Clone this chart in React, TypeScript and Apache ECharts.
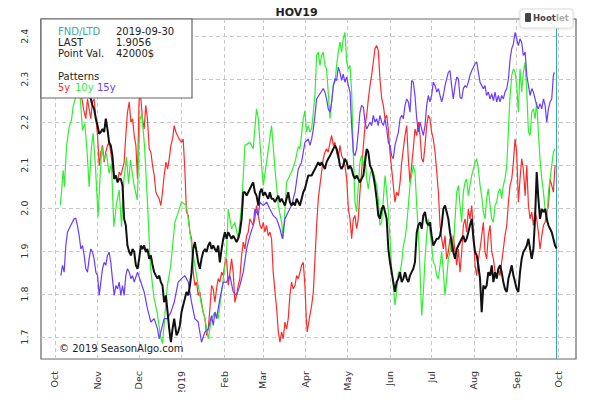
import React, { useEffect, useRef } from 'react';
import * as echarts from 'echarts';

// x values are days since 2018-10-01
const monthTicks = [0, 31, 61, 92, 123, 151, 182, 212, 243, 273, 304, 335, 365];
const monthLabels = ['Oct', 'Nov', 'Dec', '2019', 'Feb', 'Mar', 'Apr', 'May', 'Jun', 'Jul', 'Aug', 'Sep', 'Oct'];
const yTicks = [1.7, 1.8, 1.9, 2.0, 2.1, 2.2, 2.3, 2.4];
const lastDay = 364;

const infoLabels = ['FND/LTD', 'LAST', 'Point Val.'];
const infoValues = ['2019-09-30', '1.9056', '42000$'];
const patternNames = ['5y', '10y', '15y'];

// HOV19 current contract
const current: number[][] = [
  [4,2.32],[8,2.35],[13,2.31],[18,2.34],[23,2.28],
  [26.1,2.254],[27.3,2.239],[28.5,2.231],[29.8,2.208],[31.0,2.192],[32.2,2.173],[33.4,2.177],[34.6,2.184],[35.8,2.177],[37.0,2.208],[38.2,2.184],[39.4,2.153],[40.6,2.146],[41.8,2.122],[43.1,2.068],[44.3,2.076],[45.5,2.060],[46.7,2.068],[47.9,2.068],[49.1,2.053],[50.3,1.975],[51.5,1.960],[52.7,1.913],[54.0,1.898],[55.2,1.890],[56.4,1.905],[57.6,1.898],[58.8,1.867],[60.0,1.859],[61.2,1.882],[62.4,1.913],[63.6,1.905],[64.8,1.913],[66.0,1.898],[67.2,1.905],[68.5,1.882],[69.7,1.890],[70.9,1.867],[72.1,1.851],[73.3,1.843],[74.5,1.836],[75.7,1.843],[76.9,1.828],[78.1,1.820],[79.3,1.781],[80.6,1.797],[81.8,1.758],[83.0,1.719],[84.2,1.688],[85.4,1.719],[86.6,1.743],
  [88.3,1.704],[89.5,1.712],[90.7,1.727],[91.9,1.758],[93.1,1.774],[94.3,1.789],[95.5,1.805],[96.8,1.797],[98.0,1.820],[99.2,1.851],[100.4,1.905],[101.6,1.921],[102.8,1.898],[104.0,1.874],[105.2,1.859],[106.4,1.882],[107.6,1.898],[108.9,1.905],[110.1,1.898],[111.3,1.913],[112.5,1.921],[113.7,1.905],[114.9,1.913],[116.1,1.905],[117.3,1.898],[118.5,1.913],[119.7,1.874],[121.0,1.905],[122.2,1.929],[123.4,1.944],[124.6,1.929],[125.8,1.944],[127.0,1.936],[128.2,1.929],[129.4,1.936],[130.6,1.929],[131.8,1.921],[133.0,1.929],[134.2,1.944],[135.5,1.975],[136.7,2.037],[137.9,2.037],[139.1,2.029],[140.3,2.037],[141.5,2.045],[142.7,2.053],[143.9,2.060],[145.1,2.037],[146.3,2.029],[147.6,2.006],[148.8,2.037],[150.0,2.045],[151.2,2.029],[152.4,2.037],[153.6,2.029],[154.8,2.022],[156.0,2.037],[157.2,2.022],[158.4,2.022],[159.7,2.014],[160.9,2.022],[162.1,2.029],[163.3,2.014],[164.5,2.022],[165.7,2.014],[166.9,2.006],[168.1,2.022],[169.3,2.037],[170.5,2.014],[171.7,2.006],[172.9,2.014],[174.2,2.006],[175.4,2.022],[176.6,2.014],[177.8,2.006],[179.0,2.022],[180.2,2.037],[181.4,2.045],[182.6,2.060],[183.8,2.076],
  [186.3,2.076],[187.5,2.084],[188.7,2.091],[189.9,2.099],[191.1,2.107],[192.3,2.099],[193.5,2.107],[194.7,2.099],[195.9,2.091],[197.1,2.107],[198.3,2.115],[199.6,2.122],[200.8,2.130],[202.0,2.138],[203.2,2.146],[204.4,2.138],[205.6,2.122],[206.8,2.099],[208.0,2.091],[209.2,2.099],[210.4,2.115],[211.7,2.107],[212.9,2.091],[214.1,2.099],[215.3,2.091],[216.5,2.076],[217.7,2.068],[218.9,2.076],[220.1,2.068],[221.3,2.060],[222.5,2.068],[223.8,2.076],[225.0,2.107],[226.2,2.138],[227.4,2.130],[228.6,2.099],[229.8,2.091],[231.0,2.076],[232.2,2.053],[233.4,2.022],[234.6,1.983],[235.8,1.975],[237.1,1.998],[238.3,2.006],[239.5,1.991],[240.7,1.975],[241.9,1.905],[243.1,1.874],[244.3,1.851],[245.5,1.828],[246.7,1.805],[247.9,1.828],[249.2,1.836],[250.4,1.851],[251.6,1.828],[252.8,1.836],[254.0,1.851],[255.2,1.836],[256.4,1.828],[257.6,1.843],[258.8,1.851],[260.0,1.859],[261.2,1.874],[262.5,1.944],[263.7,1.960],[264.9,1.967],[266.1,1.952],[267.3,1.983],[268.5,1.991],[269.7,1.967],[270.9,1.960],[272.1,1.967],[273.3,1.936],[274.5,1.913],[275.8,1.921],[277.0,1.929],[278.2,1.929],[279.4,1.936],[280.6,1.960],[281.8,1.998],[283.0,2.006],
  [284.2,1.991],[285.4,1.975],[286.6,1.944],[287.8,1.921],[289.0,1.898],[290.3,1.882],[291.5,1.905],[292.7,1.913],[293.9,1.921],[295.1,1.929],[296.3,1.936],[297.5,1.921],[298.7,1.929],[299.9,1.944],[301.1,1.960],[302.4,1.975],[303.6,1.929],[304.8,1.898],[306.0,1.890],[307.2,1.867],[308.4,1.836],[309.6,1.758],[310.8,1.820],[312.0,1.812],[313.2,1.820],[314.4,1.851],[315.7,1.843],[316.9,1.867],[318.1,1.828],[319.3,1.851],[320.5,1.836],[321.7,1.859],[322.9,1.867],[324.1,1.851],[325.3,1.828],[326.5,1.812],[327.8,1.805],[329.0,1.836],[330.2,1.851],[331.4,1.867],[332.6,1.843],[333.8,1.828],[335.0,1.812],[336.2,1.805],[337.4,1.851],[338.6,1.882],[339.8,1.898],[341.1,1.905],[342.3,1.913],[343.5,1.929],[344.7,1.905],[345.9,1.882],[347.1,1.905],[348.3,1.975],[349.5,2.084],[350.7,2.022],[351.9,1.975],[353.2,1.998],[354.4,1.991],[355.6,1.998],[356.8,1.975],[358.0,1.960],[359.2,1.952],[360.4,1.944],[361.6,1.929],[362.8,1.913],[364.0,1.906]
];

// 5-year pattern
const pattern5y: number[][] = [
  [4,2.32],[9,2.36],[14,2.31],[18,2.29],[20.8,2.231],[22.5,2.208],[23.7,2.254],[26.1,2.208],[27.3,2.247],[28.5,2.254],[29.8,2.208],[31.0,2.169],[32.2,2.099],[33.4,2.130],[34.6,2.146],[35.8,2.107],[37.0,2.130],[38.2,2.146],[39.4,2.153],[40.6,2.130],[41.8,2.099],[43.1,2.068],[44.3,2.076],[45.5,2.060],[46.7,2.084],[47.9,2.076],[49.1,2.091],[50.3,2.107],[51.5,2.169],[52.7,2.223],[54.0,2.247],[55.2,2.200],[56.4,2.208],[57.6,2.169],[58.8,2.146],[60.0,2.068],[61.0,2.239],[61.7,2.285],[63.6,2.208],[64.8,2.184],[66.0,2.239],[67.2,2.208],[68.5,2.138],[69.7,2.130],[70.9,2.099],[72.1,2.076],[73.3,2.037],[74.5,2.029],[75.7,2.022],[76.9,2.006],[78.1,2.037],[79.3,2.076],[80.6,2.107],[81.8,2.091],[83.0,2.115],[84.2,2.146],[85.4,2.161],[86.6,2.192],[87.8,2.177],[89.0,2.169],[90.2,2.161],[91.9,2.153],[93.1,2.161],[94.3,2.091],[95.5,1.991],[96.8,1.983],[98.0,1.944],[99.2,1.929],[100.4,1.851],[101.6,1.820],[102.8,1.828],[104.0,1.797],[105.2,1.805],[106.4,1.781],[107.6,1.758],[108.9,1.743],[110.1,1.704],[111.3,1.719],[112.5,1.766],[113.7,1.820],[114.9,1.812],[116.1,1.781],[117.3,1.812],[118.5,1.836],[119.7,1.828],[121.0,1.851],[122.2,1.843],[123.4,1.874],[124.6,1.882],[125.8,1.820],[127.0,1.851],[128.2,1.882],[129.4,1.851],[130.6,1.781],[131.8,1.797],[133.0,1.820],[134.2,1.836],[135.5,1.890],[136.7,1.921],[137.9,1.905],[139.1,1.936],[140.3,1.944],[141.5,1.975],[142.7,1.967],[143.9,1.960],[145.1,1.975],[146.3,2.006],[147.6,1.983],[148.8,1.960],[150.0,1.952],[151.2,1.967],[152.4,1.944],[153.6,1.960],[154.8,1.936],[156.0,1.944],[157.2,1.929],[158.4,1.851],[159.7,1.805],[160.9,1.766],[162.1,1.712],[163.3,1.688],[164.5,1.712],[165.7,1.696],[166.9,1.735],[168.1,1.719],[169.3,1.743],[170.5,1.797],[171.7,1.828],[172.9,1.812],[174.2,1.820],[175.4,1.843],[176.6,1.836],[177.8,1.851],[179.0,1.867],[180.2,1.874],[181.4,1.820],[182.4,1.743],[183.1,1.712],[184.6,1.743],[186.3,1.774],[187.5,1.805],[188.7,1.882],[189.9,1.960],[191.1,2.022],[192.3,2.053],[193.5,2.084],[194.7,2.115],[195.9,2.130],[197.1,2.138],[198.3,2.130],[199.6,2.153],[200.8,2.169],[202.0,2.146],[203.2,2.153],[204.4,2.130],[205.6,2.115],[206.8,2.146],[208.0,2.122],[209.2,2.115],[210.4,2.099],[211.7,2.068],[212.9,1.998],[214.1,1.975],[215.3,1.929],[216.5,1.975],[217.7,1.983],[218.9,1.952],[220.1,1.975],[221.3,2.037],[222.5,2.084],[223.8,2.146],[225.0,2.192],[226.2,2.216],[227.4,2.254],[228.6,2.285],[229.8,2.309],[231.0,2.340],[232.2,2.371],[233.4,2.378],[234.6,2.367],[235.8,2.301],[237.1,2.254],[238.3,2.239],[239.5,2.208],[240.7,2.216],[241.9,2.184],[243.1,2.130],[244.3,2.091],[245.5,2.053],[246.7,2.014],[247.9,2.037],[249.2,2.029],[250.4,2.060],[251.6,2.107],[252.8,2.138],[254.0,2.169],[255.2,2.192],[256.4,2.115],[257.6,2.060],[258.8,2.099],[260.0,2.138],[261.2,2.184],[262.5,2.169],[263.7,2.200],[264.9,2.169],[266.1,2.115],[267.3,2.107],[268.5,2.146],[269.7,2.192],[270.9,2.216],[272.1,2.208],[273.3,2.177],[274.5,2.161],[275.8,2.130],[277.0,2.084],[278.2,2.037],[279.4,1.960],[280.6,1.929],[281.8,1.905],[283.0,1.936],[284.2,1.882],[285.4,1.898],[286.6,1.929],[287.8,1.898],[289.0,1.936],[290.3,1.898],[291.5,1.867],[292.7,1.905],[293.9,1.851],[295.1,1.898],[296.3,1.960],[297.5,1.975],[298.7,1.944],[299.9,1.998],[301.1,1.975],[302.4,2.006],[303.6,1.944],[304.8,1.867],[306.0,1.843],[307.2,1.882],[308.4,1.905],[309.6,1.936],[310.8,1.967],[312.0,1.898],[313.2,1.882],[314.4,1.936],[315.7,1.960],[316.9,1.898],[318.1,1.882],[319.3,1.851],[320.5,1.836],[321.7,1.859],[322.9,1.843],[324.1,1.874],[325.3,1.905],[326.5,1.936],[327.8,1.960],[329.0,2.014],[330.2,2.053],[331.4,2.068],[332.6,2.107],[333.8,2.161],[335.0,2.130],[336.2,2.014],[337.4,2.068],[338.6,2.115],[339.8,2.091],[341.1,2.029],[342.3,2.099],[343.5,2.006],[344.7,1.975],[345.9,1.991],[347.1,1.960],[348.3,1.991],[349.5,1.975],[350.7,1.944],[351.9,1.905],[353.2,1.936],[354.4,1.960],[355.6,1.967],[356.8,1.991],[358.0,2.006],[359.2,2.068],[360.4,2.053],[361.6,2.037],[362.8,2.099]
];

// 10-year pattern
const pattern10y: number[][] = [
  [4.1,2.007],[6.1,2.088],[7.0,2.050],[8.5,2.143],[10.4,2.189],[12.1,2.205],[13.3,2.236],[15.2,2.259],[16.9,2.290],[18.6,2.251],[20.1,2.181],[21.8,2.197],[23.5,2.127],[24.9,2.050],[26.6,2.143],[27.8,2.174],[29.5,2.096],[31.4,1.980],[32.7,2.065],[34.1,2.143],[35.6,2.112],[37.5,2.127],[39.4,2.081],[41.1,2.104],[42.8,1.957],[44.8,2.011],[46.7,2.042],[48.4,1.957],[50.1,2.065],[52.0,2.119],[53.5,2.057],[54.9,2.112],[57.3,2.057],[59.8,2.019],[61.7,2.205],[63.1,2.220],[65.1,2.143],[67.0,2.026],[69.4,1.864],[71.8,1.794],[74.3,1.755],[76.7,1.701],[78.1,1.685],[79.6,1.740],[81.5,1.817],[84.0,1.864],
  [87.1,1.967],[91.9,2.014],[95.5,2.006],[98.0,1.944],[101.6,1.867],[106.4,1.774],[108.9,1.743],[111.3,1.696],[113.7,1.743],[116.1,1.758],[118.5,1.743],[122.2,1.836],[124.6,1.898],[125.8,1.998],[128.2,1.952],[130.6,1.967],[133.0,1.929],[135.5,2.006],[137.9,2.146],[141.5,2.153],[143.9,2.138],[146.3,2.231],[147.6,2.208],[150.0,2.099],[151.2,2.053],[153.6,2.107],[157.2,2.192],[159.7,2.091],[162.1,2.006],[164.5,1.967],[165.7,1.929],[168.1,2.060],[171.7,2.084],[174.2,2.107],[176.6,2.143],[177.8,2.138],[180.2,2.208],[181.4,2.226],[182.6,2.177],[183.8,2.192],
  [185.1,2.177],[186.3,2.185],[187.5,2.223],[188.7,2.265],[189.9,2.355],[191.1,2.363],[192.3,2.332],[193.5,2.355],[194.7,2.363],[195.9,2.332],[197.1,2.324],[198.3,2.270],[199.6,2.208],[200.8,2.247],[202.0,2.285],[203.2,2.293],[204.4,2.332],[205.6,2.363],[206.8,2.386],[208.0,2.363],[209.2,2.394],[210.4,2.409],[211.7,2.340],[212.9,2.324],[214.1,2.332],[215.3,2.270],[216.5,2.130],[217.7,2.014],[218.9,1.991],[220.1,2.053],[221.3,2.107],[222.5,2.122],[223.8,2.099],[225.0,2.122],[226.2,2.068],[227.4,2.045],[228.6,2.076],[229.8,2.091],[231.0,2.084],[232.2,2.068],[233.4,2.053],[234.6,2.022],[235.8,1.960],[237.1,1.967],[238.3,2.022],[239.5,2.076],[240.7,2.037],[241.9,1.991],[243.1,1.929],[244.3,1.859],[245.5,1.820],[246.7,1.774],[247.9,1.805],[249.2,1.851],[250.4,1.851],[251.6,1.874],[252.8,1.913],[254.0,1.929],[255.2,1.960],[256.4,2.006],[257.6,2.053],[258.8,2.076],[260.0,2.099],[261.2,2.084],[262.5,2.006],[263.7,1.944],[264.9,1.851],[266.1,1.750],[267.3,1.805],[268.5,1.882],[269.7,1.936],[270.9,1.975],[272.1,1.944],[273.3,1.913],[274.5,1.874],[275.8,1.867],[277.0,1.843],[278.2,1.836],[279.4,1.867],[280.6,1.898],[281.8,1.851],[283.0,1.797],
  [284.2,1.836],[285.4,1.882],[286.6,1.898],[287.8,1.929],[289.0,1.905],[290.3,1.975],[291.5,2.037],[292.7,2.053],[293.9,2.006],[295.1,1.967],[296.3,2.037],[297.5,2.060],[298.7,2.068],[299.9,2.029],[301.1,2.053],[302.4,2.076],[303.6,2.091],[304.8,2.107],[306.0,2.115],[307.2,2.091],[308.4,2.053],[309.6,2.029],[310.8,1.991],[312.0,1.975],[313.2,2.022],[314.4,2.045],[315.7,2.006],[316.9,1.975],[318.1,1.967],[319.3,2.006],[320.5,2.014],[321.7,2.037],[322.9,2.045],[324.1,2.022],[325.3,2.053],[326.5,2.068],[327.8,2.099],[329.0,2.184],[330.2,2.262],[331.4,2.309],[332.6,2.324],[333.8,2.316],[335.0,2.285],[336.2,2.223],[337.4,2.324],[338.6,2.270],[339.8,2.316],[341.1,2.340],[342.3,2.270],[343.5,2.177],[344.7,2.169],[345.9,2.223],[347.1,2.231],[348.3,2.208],[349.5,2.247],[350.7,2.177],[351.9,2.115],[353.2,2.068],[354.4,2.037],[355.6,1.998],[356.8,1.967],[358.0,2.037],[359.2,2.068],[360.4,2.099],[361.6,2.130],[362.8,2.138]
];

// 15-year pattern
const pattern15y: number[][] = [
  [4.4,1.843],[5.6,1.867],[6.8,1.851],[8.0,1.913],[9.2,1.944],[11.6,1.960],[14.0,1.975],[15.2,1.977],[16.4,1.960],[17.7,1.936],[18.9,1.905],[20.1,1.913],[21.3,1.890],[22.5,1.859],[23.7,1.851],[24.9,1.882],[26.1,1.905],[27.3,1.898],[28.5,1.882],[29.8,1.851],[31.0,1.843],[32.2,1.797],[33.4,1.828],[34.6,1.859],[35.8,1.874],[37.0,1.867],[38.2,1.890],[39.4,1.898],[40.6,1.874],[41.8,1.836],[43.1,1.797],[44.3,1.820],[45.5,1.812],[46.7,1.828],[47.9,1.797],[49.1,1.820],[50.3,1.797],[51.5,1.843],[52.7,1.859],[54.0,1.851],[55.2,1.836],[56.4,1.843],[57.6,1.828],[60.0,1.851],[62.4,1.828],[64.8,1.805],[67.2,1.766],[69.7,1.735],[72.1,1.743],[74.5,1.719],[75.7,1.696],[76.9,1.712],[79.3,1.743],[81.8,1.743],[84.2,1.758],[86.6,1.781],
  [89.5,1.828],[91.9,1.836],[94.3,1.843],[96.8,1.828],[99.2,1.781],[101.6,1.743],[104.0,1.735],[106.4,1.688],[108.9,1.712],[111.3,1.719],[113.7,1.750],[114.9,1.727],[116.1,1.758],[117.3,1.743],[119.7,1.789],[122.2,1.828],[124.6,1.828],[127.0,1.843],[129.4,1.805],[131.8,1.797],[134.2,1.820],[136.7,1.851],[139.1,1.905],[141.5,1.936],[143.9,1.960],[145.1,1.998],[147.6,1.983],[148.8,2.014],[151.2,2.006],[153.6,2.014],[156.0,1.998],[158.4,1.983],[160.9,1.975],[163.3,1.952],[165.0,1.929],[166.9,1.975],[169.3,1.991],[171.7,2.006],[174.2,2.037],[176.6,2.091],[179.0,2.107],[181.4,2.153],[183.8,2.161],
  [185.1,2.146],[186.3,2.161],[187.5,2.184],[188.7,2.216],[189.9,2.254],[192.3,2.266],[194.7,2.278],[195.9,2.270],[197.1,2.254],[198.3,2.231],[199.6,2.223],[200.8,2.247],[202.0,2.285],[203.2,2.301],[204.4,2.297],[205.6,2.328],[206.8,2.316],[208.0,2.297],[209.2,2.312],[210.4,2.293],[211.7,2.305],[212.9,2.285],[214.1,2.270],[215.3,2.192],[216.5,2.130],[217.7,2.122],[218.9,2.138],[220.1,2.177],[221.3,2.223],[222.5,2.239],[223.8,2.235],[225.0,2.200],[226.2,2.184],[227.4,2.192],[228.6,2.200],[229.8,2.192],[231.0,2.216],[232.2,2.200],[233.4,2.208],[234.6,2.192],[235.8,2.216],[237.1,2.200],[238.3,2.192],[239.5,2.208],[240.7,2.184],[241.9,2.153],[243.1,2.146],[244.3,2.122],[245.5,2.115],[246.7,2.146],[247.9,2.161],[249.2,2.177],[250.4,2.208],[251.6,2.216],[252.8,2.208],[254.0,2.239],[255.2,2.254],[256.4,2.247],[257.6,2.223],[258.8,2.297],[260.0,2.293],[261.2,2.262],[262.5,2.208],[263.7,2.177],[264.9,2.200],[266.1,2.184],[267.3,2.169],[268.5,2.192],[269.7,2.239],[270.9,2.262],[272.1,2.247],[273.3,2.262],[274.5,2.293],[275.8,2.285],[277.0,2.270],[278.2,2.278],[279.4,2.262],[280.6,2.247],[281.8,2.262],[283.0,2.285],
  [285.4,2.316],[286.6,2.320],[287.8,2.285],[289.0,2.254],[290.3,2.285],[291.5,2.305],[292.7,2.301],[293.9,2.258],[295.1,2.254],[296.3,2.278],[297.5,2.285],[298.7,2.281],[299.9,2.293],[301.1,2.309],[302.4,2.320],[304.8,2.336],[306.0,2.340],[307.2,2.316],[308.4,2.293],[309.6,2.285],[310.8,2.278],[312.0,2.285],[313.2,2.262],[314.4,2.270],[315.7,2.254],[316.9,2.266],[318.1,2.250],[319.3,2.270],[320.5,2.247],[321.7,2.262],[322.9,2.247],[324.1,2.262],[325.3,2.254],[326.5,2.270],[327.8,2.278],[329.0,2.301],[330.2,2.347],[331.4,2.371],[332.6,2.382],[333.8,2.409],[335.0,2.394],[336.2,2.378],[337.4,2.394],[338.6,2.386],[339.8,2.355],[341.1,2.363],[342.3,2.309],[343.5,2.285],[344.7,2.262],[345.9,2.278],[347.1,2.270],[348.3,2.254],[349.5,2.239],[350.7,2.231],[351.9,2.243],[353.2,2.231],[354.4,2.254],[355.6,2.239],[356.8,2.200],[358.0,2.231],[359.2,2.247],[360.4,2.254],[361.6,2.309],[362.3,2.316]
];

const FONT = 'DejaVu Sans';
const RED = '#ff2a2a';
const GREEN = '#2ef02e';
const BLUE = '#6a3cff';
const TEAL = '#3aa9a9';

export default function App() {
  const ref = useRef<HTMLDivElement>(null);
  useEffect(() => {
    if (!ref.current) return;
    const chart = echarts.init(ref.current, undefined, { renderer: 'svg' });
    const labelMap: Record<number, string> = {};
    monthTicks.forEach((d, i) => { labelMap[d] = monthLabels[i]; });

    const line = (name: string, data: number[][], color: string, width: number, z: number) => ({
      name, type: 'line', data, showSymbol: false, symbol: 'none', z,
      lineStyle: { color, width }, itemStyle: { color },
    });

    const txt = (text: string, x: number, y: number, fill: string, extra: any = {}) => ({
      type: 'text', z: 101,
      style: { text, x, y, fill, fontSize: 10, fontFamily: FONT, verticalAlign: 'middle', ...extra },
    });

    const infoRows: any[] = [];
    infoLabels.forEach((t, i) => {
      infoRows.push(txt(t, 58, 31 + i * 11, i === 0 ? TEAL : '#222'));
      infoRows.push(txt(infoValues[i], 116, 31 + i * 11, '#222'));
    });
    const patColors = [RED, GREEN, BLUE];
    const patX = [58, 75, 97];
    patternNames.forEach((p, i) => {
      infoRows.push(txt(p, patX[i], 87, patColors[i]));
    });

    chart.setOption({
      animation: false,
      backgroundColor: '#ffffff',
      title: {
        text: 'HOV19', left: 'center', top: 2,
        textStyle: { fontFamily: FONT, fontSize: 11, fontWeight: 'bold', color: '#222' },
      },
      grid: { left: 41, right: 17, top: 19, bottom: 41, show: true, borderColor: '#666', borderWidth: 1.2, backgroundColor: 'transparent' },
      xAxis: {
        type: 'value', min: -10, max: 378,
        axisLine: { show: false },
        axisTick: { show: false, customValues: monthTicks },
        axisLabel: {
          customValues: monthTicks, rotate: 90, margin: 12,
          formatter: (v: number) => labelMap[v] ?? '',
          fontFamily: FONT, fontSize: 9.5, color: '#333',
        },
        splitLine: { show: true, lineStyle: { color: '#c8c8c8', type: [4, 3], width: 1 } },
      },
      yAxis: {
        type: 'value', min: 1.649, max: 2.44,
        axisLine: { show: false },
        axisTick: { show: false, customValues: yTicks },
        axisLabel: {
          customValues: yTicks, rotate: 90, margin: 12,
          formatter: (v: number) => v.toFixed(1),
          fontFamily: FONT, fontSize: 9.5, color: '#333',
        },
        splitLine: { show: true, lineStyle: { color: '#c8c8c8', type: [4, 3], width: 1 } },
      },
      series: [
        line('5y', pattern5y, RED, 1.2, 3),
        line('10y', pattern10y, GREEN, 1.2, 4),
        line('15y', pattern15y, BLUE, 1.2, 5),
        {
          ...line('HOV19', current, '#111', 2, 6),
          markLine: {
            silent: true, symbol: ['none', 'none'], label: { show: false },
            lineStyle: { color: TEAL, width: 1, type: 'solid' },
            data: [{ xAxis: lastDay }],
          },
        },
      ],
      graphic: [
        { type: 'rect', z: 100, shape: { x: 41, y: 19, width: 151, height: 79 }, style: { fill: '#fff', stroke: '#666', lineWidth: 1.2 } },
        ...infoRows,
        txt('Patterns', 58, 76, '#222'),
        txt('© 2019 SeasonAlgo.com', 59, 348, '#222'),
        { type: 'rect', z: 100, shape: { x: 520, y: 9, width: 53, height: 19, r: 3 }, style: { fill: '#fff', stroke: '#ddd', lineWidth: 1, shadowBlur: 3, shadowColor: 'rgba(0,0,0,0.15)' } },
        { type: 'rect', z: 101, shape: { x: 525, y: 13, width: 6, height: 9, r: 1 }, style: { fill: '#444' } },
        txt('Hoot', 533, 18, '#444', { fontSize: 8.5, fontWeight: 'bold' }),
        txt('let', 556, 18, '#aaa', { fontSize: 8.5, fontWeight: 'bold' }),
      ],
    });
    return () => chart.dispose();
  }, []);
  return <div ref={ref} style={{ width: 593, height: 400, margin: -8 }} />;
}
